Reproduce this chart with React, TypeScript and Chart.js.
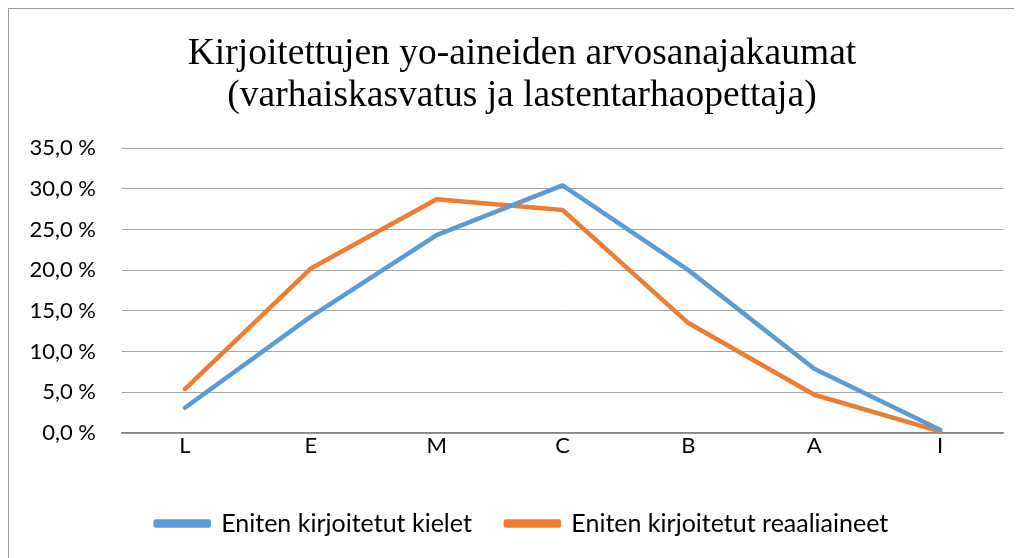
import React, { useEffect, useRef } from "react";
import { Chart, registerables } from "chart.js";

Chart.register(...registerables);

const categories = ["L", "E", "M", "C", "B", "A", "I"];
const kielet = [3.1, 14.3, 24.3, 30.4, 20.0, 7.9, 0.4];
const reaaliaineet = [5.4, 20.2, 28.7, 27.4, 13.5, 4.7, 0.2];
const seriesNames = ["Eniten kirjoitetut kielet", "Eniten kirjoitetut reaaliaineet"];
const titleLines = [
  "Kirjoitettujen yo-aineiden arvosanajakaumat",
  "(varhaiskasvatus ja lastentarhaopettaja)",
];
const yMin = 0;
const yMax = 35;
const yStep = 5;

// lets the y tick labels spill into the left layout padding without clipping
const widenYLabelArea = {
  id: "widenYLabelArea",
  afterLayout(chart: any) {
    const y = chart.scales.y;
    if (y) y.left = 0;
  },
};

export default function App() {
  const ref = useRef<HTMLCanvasElement | null>(null);

  useEffect(() => {
    if (!ref.current) return;
    const chart = new Chart(ref.current, {
      type: "line",
      data: {
        labels: categories,
        datasets: [
          {
            label: seriesNames[0],
            data: kielet,
            borderColor: "#5B9BD5",
            backgroundColor: "#5B9BD5",
            borderWidth: 4.5,
            pointRadius: 0,
            borderJoinStyle: "round",
            borderCapStyle: "round",
            tension: 0,
          },
          {
            label: seriesNames[1],
            data: reaaliaineet,
            borderColor: "#ED7D31",
            backgroundColor: "#ED7D31",
            borderWidth: 4.5,
            pointRadius: 0,
            borderJoinStyle: "round",
            borderCapStyle: "round",
            tension: 0,
          },
        ],
      },
      plugins: [widenYLabelArea],
      options: {
        animation: false,
        responsive: false,
        maintainAspectRatio: false,
        layout: { padding: { left: 32, right: 34, top: 0, bottom: 12 } },
        plugins: {
          title: {
            display: true,
            text: titleLines,
            color: "#000000",
            font: { family: "'Liberation Serif', 'Times New Roman', serif", size: 37.5, weight: "normal", lineHeight: 1.12 },
            padding: { top: 24, bottom: 31 },
          },
          legend: {
            display: true,
            position: "bottom",
            labels: {
              boxWidth: 53,
              boxHeight: 4,
              padding: 34,
              color: "#000000",
              font: { family: "Lato, 'Noto Sans', sans-serif", size: 25 },
            },
          },
          tooltip: { enabled: false },
        },
        scales: {
          x: {
            offset: true,
            grid: { display: false },
            border: { display: true, color: "#868686", width: 1.5 },
            ticks: {
              color: "#000000",
              padding: -8,
              font: { family: "Lato, 'Noto Sans', sans-serif", size: 22 },
            },
            afterFit: (s: any) => {
              s.height = 44;
            },
          },
          y: {
            min: yMin,
            max: yMax,
            grid: { color: "#a6a6a6", lineWidth: 1, drawTicks: false },
            border: { display: false },
            ticks: {
              stepSize: yStep,
              color: "#000000",
              padding: 26,
              font: { family: "Lato, 'Noto Sans', sans-serif", size: 22 },
              callback: (v: any) => Number(v).toFixed(1).replace(".", ",") + " %",
            },
            afterFit: (s: any) => {
              s.width = 81;
            },
          },
        },
      },
    });
    return () => chart.destroy();
  }, []);

  return (
    <div
      style={{
        width: 1014,
        height: 550,
        boxSizing: "border-box",
        borderLeft: "1px solid #9a9a9a",
        borderTop: "1px solid #9a9a9a",
        overflow: "hidden",
        position: "relative",
        background: "#ffffff",
      }}
    >
      <canvas ref={ref} width={1028} height={549} style={{ display: "block" }} />
    </div>
  );
}
